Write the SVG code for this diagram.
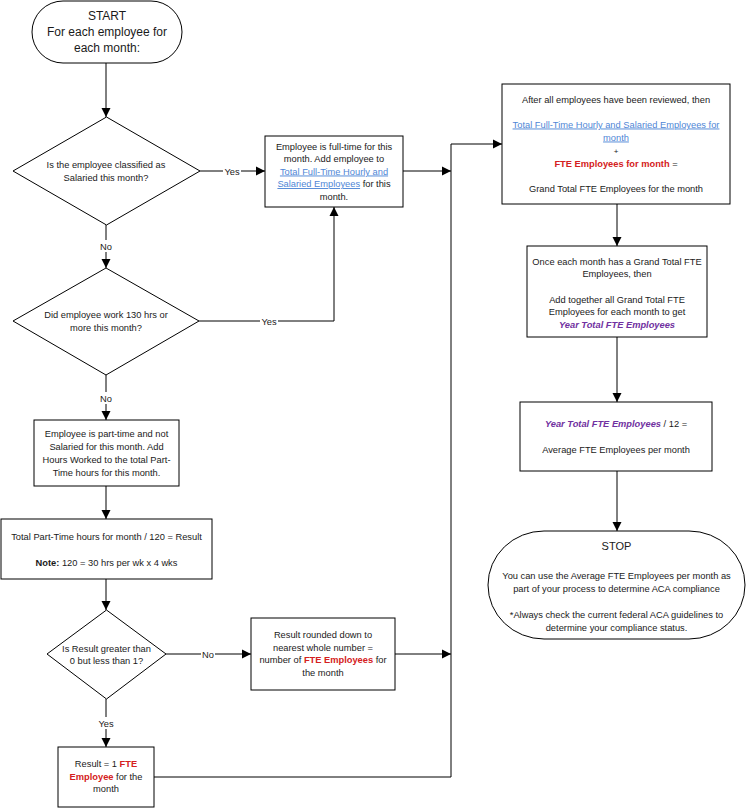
<svg xmlns="http://www.w3.org/2000/svg" width="746" height="808" viewBox="0 0 746 808">
<style>
.s{fill:#fff;stroke:#000;stroke-width:1}
.c{fill:none;stroke:#000;stroke-width:1}
text{font-family:"Liberation Sans",Arial,sans-serif;font-size:9.3px;fill:#1a1a1a;text-anchor:middle}
.big{font-size:12px}
.lnk{fill:#4f86d6;text-decoration:underline}
.red{fill:#d42020;font-weight:bold}
.pur{fill:#7030a0;font-weight:bold;font-style:italic}
.b{font-weight:bold}
.lbl{fill:#fff;stroke:none}
</style>
<defs>
<marker id="ah" markerUnits="userSpaceOnUse" markerWidth="10" markerHeight="10" refX="9" refY="5" orient="auto">
<path d="M0,0.5 L9,5 L0,9.5 z" fill="#000"/>
</marker>
</defs>

<g id="connectors">
<path class="c" d="M106,63 V117" marker-end="url(#ah)"/>
<path class="c" d="M200,171 H265" marker-end="url(#ah)"/>
<path class="c" d="M106,225 V268" marker-end="url(#ah)"/>
<path class="c" d="M199,321 H334 V207" marker-end="url(#ah)"/>
<path class="c" d="M106,375 V420" marker-end="url(#ah)"/>
<path class="c" d="M106,486 V519" marker-end="url(#ah)"/>
<path class="c" d="M106,579 V610" marker-end="url(#ah)"/>
<path class="c" d="M166,654 H251" marker-end="url(#ah)"/>
<path class="c" d="M106,699 V747" marker-end="url(#ah)"/>
<path class="c" d="M403,171 H451" marker-end="url(#ah)"/>
<path class="c" d="M395,654 H451" marker-end="url(#ah)"/>
<path class="c" d="M154,777 H451 V144 H502" marker-end="url(#ah)"/>
<path class="c" d="M617,204 V246" marker-end="url(#ah)"/>
<path class="c" d="M617,337 V402" marker-end="url(#ah)"/>
<path class="c" d="M617,471 V531" marker-end="url(#ah)"/>
<rect class="lbl" x="223" y="165" width="18" height="12"/>
<text x="232" y="174.5">Yes</text>
<rect class="lbl" x="99" y="240" width="14" height="12"/>
<text x="106" y="249.5">No</text>
<rect class="lbl" x="260" y="315" width="18" height="12"/>
<text x="269" y="324.5">Yes</text>
<rect class="lbl" x="99" y="392" width="14" height="12"/>
<text x="106" y="401.5">No</text>
<rect class="lbl" x="201" y="648" width="14" height="12"/>
<text x="208" y="657.5">No</text>
<rect class="lbl" x="97" y="717" width="18" height="12"/>
<text x="106" y="726.5">Yes</text>
</g>

<g id="start">
<rect class="s" x="32" y="1" width="150" height="62" rx="31" ry="31"/>
<text class="big" x="107" y="20">START</text>
<text class="big" x="107" y="36">For each employee for</text>
<text class="big" x="107" y="52">each month:</text>
</g>

<g id="d1">
<path class="s" d="M106.5,117 L200,171 L106.5,225 L13,171 Z"/>
<text x="106" y="168">Is the employee classified as</text>
<text x="106" y="181">Salaried this month?</text>
</g>

<g id="fulltime">
<rect class="s" x="265" y="136" width="138" height="71"/>
<text x="334" y="149.5">Employee is full-time for this</text>
<text x="334" y="162">month. Add employee to</text>
<text x="334" y="174.5" class="lnk">Total Full-Time Hourly and</text>
<text x="334" y="187"><tspan class="lnk">Salaried Employees</tspan> for this</text>
<text x="334" y="199.5">month.</text>
</g>

<g id="d2">
<path class="s" d="M106,268 L199,321 L106,375 L13,321 Z"/>
<text x="106" y="318">Did employee work 130 hrs or</text>
<text x="106" y="331">more this month?</text>
</g>

<g id="parttime">
<rect class="s" x="34" y="420" width="145" height="66"/>
<text x="106.5" y="436.5">Employee is part-time and not</text>
<text x="106.5" y="449.5">Salaried for this month. Add</text>
<text x="106.5" y="462.5">Hours Worked to the total Part-</text>
<text x="106.5" y="475.5">Time hours for this month.</text>
</g>

<g id="totalpt">
<rect class="s" x="1" y="519" width="211" height="60"/>
<text x="106.5" y="539.5">Total Part-Time hours for month / 120 = Result</text>
<text x="106.5" y="565.5"><tspan class="b">Note:</tspan> 120 = 30 hrs per wk x 4 wks</text>
</g>

<g id="d3">
<path class="s" d="M106.5,610 L166,654 L106.5,699 L47,654 Z"/>
<text x="106.5" y="651.5">Is Result greater than</text>
<text x="106.5" y="664">0 but less than 1?</text>
</g>

<g id="rounded">
<rect class="s" x="251" y="618" width="144" height="72"/>
<text x="323" y="638">Result rounded down to</text>
<text x="323" y="650.5">nearest whole number =</text>
<text x="323" y="663">number of <tspan class="red">FTE Employees</tspan> for</text>
<text x="323" y="675.5">the month</text>
</g>

<g id="one">
<rect class="s" x="58" y="747" width="96" height="60"/>
<text x="106" y="767">Result = 1 <tspan class="red">FTE</tspan></text>
<text x="106" y="779.5"><tspan class="red">Employee</tspan> for the</text>
<text x="106" y="792">month</text>
</g>

<g id="grandtotal">
<rect class="s" x="502" y="84" width="228" height="120"/>
<text x="616" y="102.5">After all employees have been reviewed, then</text>
<text x="616" y="127.5" class="lnk">Total Full-Time Hourly and Salaried Employees for</text>
<text x="616" y="140.5" class="lnk">month</text>
<text x="616" y="154" style="font-size:8px">+</text>
<text x="616" y="166.5"><tspan class="red">FTE Employees for month</tspan> =</text>
<text x="616" y="191.5">Grand Total FTE Employees for the month</text>
</g>

<g id="yeartotal">
<rect class="s" x="527" y="246" width="180" height="91"/>
<text x="617" y="264.5">Once each month has a Grand Total FTE</text>
<text x="617" y="277">Employees, then</text>
<text x="617" y="302.5">Add together all Grand Total FTE</text>
<text x="617" y="315">Employees for each month to get</text>
<text x="617" y="327.5" class="pur">Year Total FTE Employees</text>
</g>

<g id="average">
<rect class="s" x="520" y="402" width="192" height="69"/>
<text x="616" y="426.5"><tspan class="pur">Year Total FTE Employees</tspan> / 12 =</text>
<text x="616" y="452.5">Average FTE Employees per month</text>
</g>

<g id="stop">
<rect class="s" x="488" y="531" width="257" height="108" rx="56" ry="54"/>
<text x="616.5" y="550" style="font-size:11px">STOP</text>
<text x="616.5" y="578.5">You can use the Average FTE Employees per month as</text>
<text x="616.5" y="591.5">part of your process to determine ACA compliance</text>
<text x="616.5" y="617.5">*Always check the current federal ACA guidelines to</text>
<text x="616.5" y="630.5">determine your compliance status.</text>
</g>
</svg>
